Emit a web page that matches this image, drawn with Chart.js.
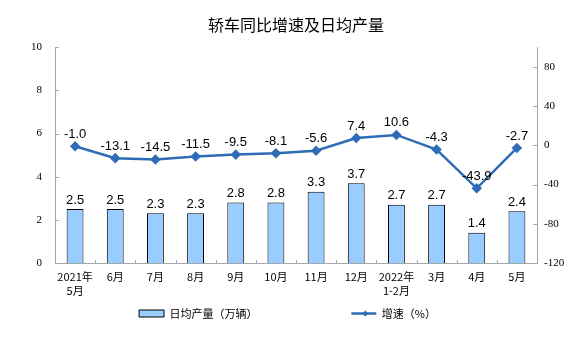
<!DOCTYPE html>
<html><head><meta charset="utf-8">
<script src="https://cdn.jsdelivr.net/npm/chart.js@4.4.1/dist/chart.umd.min.js"></script>
<style>html,body{margin:0;padding:0;background:#fff}#wrap{width:575px;height:357px}</style>
</head><body><div id="wrap"><canvas id="c" width="575" height="357"></canvas></div>
<script>
const categories = [['2021年','5月'],'6月','7月','8月','9月','10月','11月','12月',['2022年','1-2月'],'3月','4月','5月'];
const dailyOutput = [2.5,2.5,2.3,2.3,2.8,2.8,3.3,3.7,2.7,2.7,1.4,2.4];
const growthRate = [-1.0,-13.1,-14.5,-11.5,-9.5,-8.1,-5.6,7.4,10.6,-4.3,-43.9,-2.7];
const leftTicks = [0,2,4,6,8,10];
const rightTicks = [-120,-80,-40,0,40,80];
const titleText = '轿车同比增速及日均产量';
const barLabel = '日均产量（万辆）';
const lineLabel = '增速（%）';

const BAR_FILL = '#99CCFF';
const LINE_COLOR = '#2E6DB5';
const AXIS_COLOR = '#A6A6A6';
const CJK = '"Noto Sans CJK SC", "Noto Sans", sans-serif';

const tickMarks = {
  id: 'tickMarks',
  afterDraw(chart) {
    const ctx = chart.ctx;
    const {left, right, bottom} = chart.chartArea;
    ctx.save();
    ctx.strokeStyle = AXIS_COLOR;
    ctx.lineWidth = 1;
    ctx.beginPath();
    const y = chart.scales.y;
    y.ticks.forEach(t => {
      const py = Math.round(y.getPixelForValue(t.value)) + 0.5;
      ctx.moveTo(left, py); ctx.lineTo(left + 4, py);
    });
    const y1 = chart.scales.y1;
    y1.ticks.forEach(t => {
      const py = Math.round(y1.getPixelForValue(t.value)) + 0.5;
      ctx.moveTo(right, py); ctx.lineTo(right - 4, py);
    });
    const n = categories.length;
    for (let i = 1; i < n; i++) {
      const px = Math.round(left + i * (right - left) / n) + 0.5;
      ctx.moveTo(px, bottom); ctx.lineTo(px, bottom - 3);
    }
    ctx.stroke();
    ctx.restore();
  }
};

const valueLabels = {
  id: 'valueLabels',
  afterDatasetsDraw(chart) {
    const ctx = chart.ctx;
    ctx.save();
    ctx.font = '13px "Liberation Sans", Arial, sans-serif';
    ctx.fillStyle = '#000';
    ctx.textAlign = 'center';
    ctx.textBaseline = 'middle';
    chart.getDatasetMeta(0).data.forEach((el, i) => {
      ctx.fillText(dailyOutput[i].toFixed(1), el.x, el.y - 9);
    });
    chart.getDatasetMeta(1).data.forEach((el, i) => {
      ctx.fillText(growthRate[i].toFixed(1), el.x, el.y - 12);
    });
    ctx.restore();
  }
};

const legendDiamond = {
  id: 'legendDiamond',
  afterDraw(chart) {
    const hb = chart.legend && chart.legend.legendHitBoxes && chart.legend.legendHitBoxes[1];
    if (!hb) return;
    const ctx = chart.ctx;
    const cx = hb.left + 14, cy = hb.top + hb.height / 2;
    ctx.save();
    ctx.fillStyle = LINE_COLOR;
    ctx.beginPath();
    ctx.moveTo(cx, cy - 3); ctx.lineTo(cx + 3, cy); ctx.lineTo(cx, cy + 3); ctx.lineTo(cx - 3, cy);
    ctx.closePath(); ctx.fill();
    ctx.restore();
  }
};

const ctx = document.getElementById('c').getContext('2d');
new Chart(ctx, {
  data: {
    labels: categories,
    datasets: [
      {
        type: 'bar', label: barLabel, data: dailyOutput, yAxisID: 'y',
        backgroundColor: BAR_FILL, borderColor: '#000', borderWidth: 1,
        categoryPercentage: 1, barPercentage: 0.42
      },
      {
        type: 'line', label: lineLabel, data: growthRate, yAxisID: 'y1',
        borderColor: LINE_COLOR, backgroundColor: LINE_COLOR, borderWidth: 2.5,
        pointStyle: 'rectRot', pointRadius: 3.5, pointBackgroundColor: LINE_COLOR,
        pointBorderColor: LINE_COLOR, tension: 0, fill: false
      }
    ]
  },
  options: {
    responsive: false,
    devicePixelRatio: 1,
    animation: false,
    layout: { padding: { top: 0, bottom: 28, left: 0, right: 0 } },
    plugins: {
      title: {
        display: true, text: titleText, fullSize: false, color: '#000',
        font: { family: CJK, size: 16, weight: 'normal' },
        padding: { top: 15, bottom: 13 }
      },
      legend: {
        position: 'bottom',
        labels: {
          usePointStyle: true, pointStyleWidth: 25, boxHeight: 7, padding: 10,
          color: '#000', font: { family: CJK, size: 11 },
          generateLabels(chart) {
            const items = Chart.defaults.plugins.legend.labels.generateLabels(chart);
            const c = chart.ctx;
            c.save(); c.font = '11px ' + CJK;
            const sp = c.measureText(' ').width || 3;
            c.restore();
            const n = Math.max(1, Math.round(84 / sp));
            items[0].pointStyle = 'rect';
            items[0].fillStyle = BAR_FILL;
            items[0].strokeStyle = '#000';
            items[0].lineWidth = 1;
            items[0].text = barLabel + ' '.repeat(n);
            items[1].pointStyle = 'line';
            items[1].strokeStyle = LINE_COLOR;
            items[1].lineWidth = 2.5;
            return items;
          }
        }
      },
      tooltip: { enabled: false }
    },
    scales: {
      x: {
        offset: true,
        grid: { display: false, drawTicks: false },
        border: { display: true, color: AXIS_COLOR },
        ticks: { color: '#000', padding: 7, maxRotation: 0, autoSkip: false,
                 font: { family: CJK, size: 11, lineHeight: 1.25 } },
        afterFit(s) { s.height = 35; }
      },
      y: {
        position: 'left', min: 0, max: 10,
        afterBuildTicks(s) { s.ticks = leftTicks.map(v => ({ value: v })); },
        grid: { display: false, drawTicks: false },
        border: { display: true, color: AXIS_COLOR },
        ticks: { color: '#000', padding: 13, font: { family: '"Liberation Serif", serif', size: 11 } },
        afterFit(s) { s.width = 55; }
      },
      y1: {
        position: 'right', min: -120, max: 100,
        afterBuildTicks(s) { s.ticks = rightTicks.map(v => ({ value: v })); },
        grid: { display: false, drawTicks: false },
        border: { display: true, color: AXIS_COLOR },
        ticks: { color: '#000', padding: 7, font: { family: '"Liberation Serif", serif', size: 11 } },
        afterFit(s) { s.width = 38; }
      }
    }
  },
  plugins: [tickMarks, valueLabels, legendDiamond]
});
</script>
</body></html>
